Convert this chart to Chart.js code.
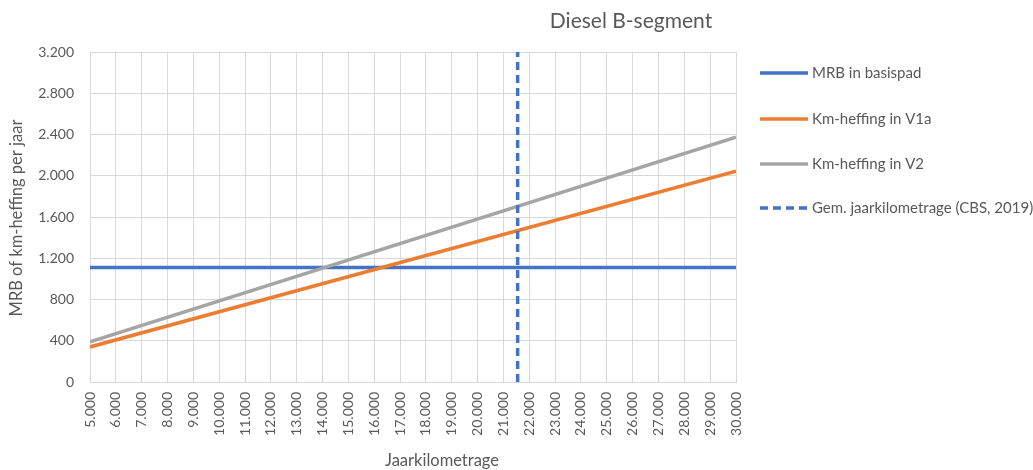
<!DOCTYPE html>
<html>
<head>
<meta charset="utf-8">
<script src="https://cdn.jsdelivr.net/npm/chart.js@4"></script>
<style>
  html, body { margin: 0; padding: 0; background: #fff; }
  #wrap { width: 1033px; height: 470px; }
</style>
</head>
<body>
<div id="wrap"><canvas id="chart" width="1033" height="470"></canvas></div>
<script>
const kmPoints = [5000, 30000];
const mrbBasispad = [1110, 1110];
const kmHeffingV1a = [340, 2045];
const kmHeffingV2 = [390, 2375];
const gemJaarkm = 21550;
const yRange = [0, 3200];

const seriesLabels = ['MRB in basispad', 'Km-heffing in V1a', 'Km-heffing in V2', 'Gem. jaarkilometrage (CBS, 2019)'];
const seriesColors = ['#4472C4', '#ED7D31', '#A5A5A5', '#4472C4'];

const textColor = '#595959';
const fontFamily = 'Lato, "Open Sans", sans-serif';

const toPoints = (ys) => kmPoints.map((x, i) => ({ x: x, y: ys[i] }));
const fmt = (v) => String(v).replace(/\B(?=(\d{3})+(?!\d))/g, '.');

// titles and legend drawn by hand, Excel style
const decorations = {
  id: 'decorations',
  afterDraw(chart) {
    const ctx = chart.ctx;
    ctx.save();
    ctx.fillStyle = textColor;
    ctx.textBaseline = 'middle';

    ctx.font = '21px ' + fontFamily;
    ctx.textAlign = 'center';
    ctx.fillText('Diesel B-segment', 631, 21);

    ctx.font = '16.5px ' + fontFamily;
    ctx.fillText('Jaarkilometrage', 442, 461);

    ctx.save();
    ctx.translate(17, 218);
    ctx.rotate(-Math.PI / 2);
    ctx.fillText('MRB of km-heffing per jaar', 0, 0);
    ctx.restore();

    ctx.font = '15px ' + fontFamily;
    ctx.textAlign = 'left';
    const rows = [73, 119, 164, 208];
    rows.forEach((y, i) => {
      ctx.beginPath();
      ctx.strokeStyle = seriesColors[i];
      ctx.lineWidth = 3.5;
      ctx.setLineDash(i === 3 ? [8, 5] : []);
      ctx.moveTo(760, y);
      ctx.lineTo(808, y);
      ctx.stroke();
      ctx.setLineDash([]);
      ctx.fillText(seriesLabels[i], 812, y);
    });
    ctx.restore();
  }
};

new Chart(document.getElementById('chart'), {
  type: 'scatter',
  data: {
    datasets: [
      { label: seriesLabels[0], data: toPoints(mrbBasispad), borderColor: seriesColors[0], order: 3 },
      { label: seriesLabels[1], data: toPoints(kmHeffingV1a), borderColor: seriesColors[1], order: 2 },
      { label: seriesLabels[2], data: toPoints(kmHeffingV2), borderColor: seriesColors[2], order: 1 },
      {
        label: seriesLabels[3],
        data: yRange.map(y => ({ x: gemJaarkm, y: y })),
        borderColor: seriesColors[3],
        borderDash: [8, 5],
        order: 0
      }
    ].map(d => Object.assign({
      showLine: true,
      borderWidth: 3.5,
      pointRadius: 0,
      pointHoverRadius: 0,
      fill: false
    }, d))
  },
  options: {
    responsive: false,
    animation: false,
    layout: { padding: { left: 0, right: 297, top: 52, bottom: 0 } },
    plugins: {
      legend: { display: false },
      title: { display: false },
      tooltip: { enabled: false }
    },
    scales: {
      x: {
        type: 'linear',
        min: 5000,
        max: 30000,
        afterFit: (s) => { s.height = 88; },
        ticks: {
          stepSize: 1000,
          minRotation: 90,
          maxRotation: 90,
          padding: 10,
          color: textColor,
          font: { family: fontFamily, size: 14 },
          callback: (v) => fmt(v)
        },
        grid: { color: '#d9d9d9', lineWidth: 1, drawTicks: false },
        border: { color: '#d9d9d9' }
      },
      y: {
        min: yRange[0],
        max: yRange[1],
        afterFit: (s) => { s.width = 90; },
        ticks: {
          stepSize: 400,
          padding: 16,
          color: textColor,
          font: { family: fontFamily, size: 14 },
          callback: (v) => fmt(v)
        },
        grid: { color: '#d9d9d9', lineWidth: 1, drawTicks: false },
        border: { color: '#d9d9d9' }
      }
    }
  },
  plugins: [decorations]
});
</script>
</body>
</html>
